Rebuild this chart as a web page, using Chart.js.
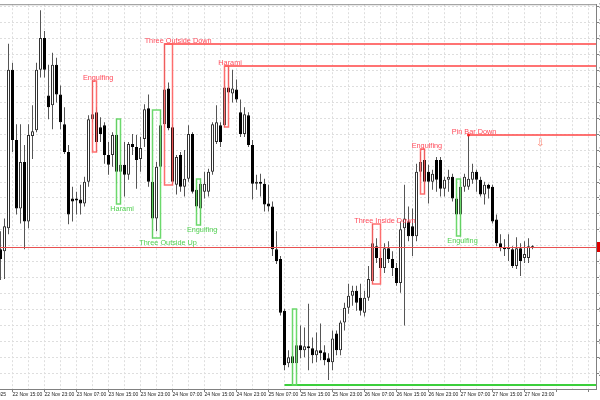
<!DOCTYPE html>
<html>
<head>
<meta charset="utf-8">
<script src="https://cdn.jsdelivr.net/npm/chart.js@4.4.1/dist/chart.umd.min.js"></script>
<style>
    html, body { margin: 0; padding: 0; background: #fff; overflow: hidden; }
    #wrap { width: 600px; height: 400px; overflow: hidden; }
</style>
</head>
<body>
<div id="wrap"><canvas id="candleChart" width="640" height="400"></canvas></div>
<script>
// time axis labels, one every 8 hourly bars starting at bar 3
const tickLabels = [
    "22 Nov 15:00", "22 Nov 23:00", "23 Nov 07:00", "23 Nov 15:00", "23 Nov 23:00",
    "24 Nov 07:00", "24 Nov 15:00", "24 Nov 23:00", "25 Nov 07:00", "25 Nov 15:00",
    "25 Nov 23:00", "26 Nov 07:00", "26 Nov 15:00", "26 Nov 23:00", "27 Nov 07:00",
    "27 Nov 15:00", "27 Nov 23:00"
];
const firstTick = 3;
const startDate = "22 Nov 2025";

// hourly candles (price in points)
const opens = [
    152, 150, 173, 333, 262, 193, 240, 180, 266, 272,
    333, 365, 307, 297, 338, 308, 278, 250, 203, 203,
    202, 198, 220, 283, 290, 275, 277, 247, 247, 267,
    230, 237, 227, 258, 255, 243, 263, 294, 220, 183,
    235, 278, 314, 275, 217, 247, 215, 223, 268, 212,
    193, 210, 210, 230, 260, 277, 277, 315, 309, 313,
    290, 268, 287, 257, 218, 220, 218, 198, 195, 152,
    142, 90, 37, 44, 37, 55, 50, 54, 52, 45,
    50, 48, 42, 38, 67, 50, 78, 93, 105, 110,
    103, 88, 103, 120, 155, 143, 133, 153, 142, 133,
    118, 173, 180, 175, 165, 230, 242, 230, 220, 242,
    242, 213, 222, 225, 203, 187, 215, 215, 222, 230,
    222, 207, 217, 215, 182, 158, 154, 152, 152, 135,
    153, 143, 143, 155
];
const highs = [
    170, 183, 359, 340, 278, 278, 257, 278, 297, 340,
    393, 372, 338, 350, 345, 317, 295, 257, 215, 210,
    217, 225, 287, 322, 295, 285, 280, 260, 270, 283,
    240, 260, 260, 268, 267, 265, 298, 308, 225, 240,
    292, 359, 320, 278, 247, 250, 252, 277, 270, 215,
    223, 230, 233, 280, 297, 280, 322, 337, 333, 323,
    303, 295, 290, 262, 227, 228, 223, 217, 200, 170,
    145, 92, 50, 48, 62, 75, 73, 97, 63, 68,
    77, 55, 47, 70, 70, 80, 98, 117, 115, 115,
    117, 110, 135, 177, 163, 150, 158, 160, 150, 138,
    180, 217, 195, 193, 238, 250, 253, 237, 232, 245,
    245, 225, 232, 228, 208, 223, 228, 267, 238, 232,
    225, 220, 218, 217, 187, 167, 162, 167, 155, 164,
    158, 160, 163, 156
];
const lows = [
    121, 122, 167, 250, 187, 178, 152, 173, 243, 270,
    325, 325, 283, 273, 300, 273, 248, 177, 180, 187,
    187, 195, 215, 280, 250, 260, 238, 227, 235, 218,
    198, 205, 222, 247, 213, 230, 255, 215, 163, 170,
    232, 275, 272, 217, 207, 210, 205, 220, 208, 190,
    176, 203, 205, 227, 258, 255, 275, 300, 300, 300,
    265, 265, 255, 202, 212, 205, 190, 190, 145, 137,
    85, 30, 33, 15, 28, 42, 43, 30, 37, 38,
    40, 35, 20, 30, 45, 45, 70, 87, 95, 90,
    85, 84, 100, 117, 138, 125, 128, 138, 125, 115,
    108, 75, 160, 145, 160, 225, 208, 198, 212, 210,
    205, 205, 210, 200, 182, 165, 210, 212, 218, 210,
    205, 197, 203, 178, 155, 150, 145, 140, 133, 132,
    125, 138, 138, 152
];
const closes = [
    142, 175, 333, 262, 193, 240, 180, 267, 271, 333,
    365, 333, 295, 338, 308, 280, 250, 187, 200, 201,
    198, 220, 283, 288, 260, 268, 247, 237, 267, 230,
    237, 227, 258, 255, 242, 254, 293, 220, 183, 235,
    277, 313, 274, 220, 245, 215, 223, 268, 210, 195,
    218, 218, 230, 278, 280, 260, 315, 310, 314, 303,
    268, 288, 257, 218, 220, 218, 197, 195, 152, 140,
    88, 35, 43, 37, 55, 50, 54, 52, 45, 50,
    47, 40, 38, 62, 50, 78, 93, 105, 110, 98,
    90, 103, 122, 158, 143, 133, 153, 142, 133, 118,
    172, 183, 165, 165, 230, 240, 220, 220, 228, 222,
    213, 222, 225, 203, 187, 215, 225, 223, 230, 222,
    207, 217, 213, 180, 158, 153, 152, 154, 135, 153,
    140, 147, 155, 153.5
];

// candle patterns found on the chart (bar index ranges)
const patterns = [
    { name: "Engulfing", bull: false, from: 23, to: 24, labelAt: 24.4 },
    { name: "Harami", bull: true, from: 29, to: 30, labelAt: 30.4 },
    { name: "Three Outside Up", bull: true, from: 38, to: 40, labelAt: 41.9 },
    { name: "Three Outside Down", bull: false, from: 41, to: 43, labelAt: 44.4, level: true },
    { name: "Engulfing", bull: true, from: 49, to: 50, labelAt: 50.4 },
    { name: "Harami", bull: false, from: 56, to: 57, labelAt: 57.4, level: true },
    { name: "", bull: true, from: 71, to: 74, labelAt: 74, level: true },
    { name: "Three Inside Down", bull: false, from: 93, to: 95, labelAt: 96.1 },
    { name: "Engulfing", bull: false, from: 105, to: 106, labelAt: 106.6 },
    { name: "Engulfing", bull: true, from: 114, to: 115, labelAt: 115.5 },
    { name: "Pin Bar Down", bull: false, from: 117, to: 117, labelAt: 118.4, level: true }
];

const axisFont = { family: "'Liberation Sans Narrow', 'Liberation Sans', Arial, sans-serif", size: 5 };

// boxes, labels, levels and the current price line
const overlayPlugin = {
    id: "overlay",
    afterDatasetsDraw(chart) {
        const ctx = chart.ctx;
        const area = chart.chartArea;
        const x = chart.scales.x;
        const y = chart.scales.y;
        ctx.save();

        // top frame
        ctx.strokeStyle = "#909090";
        ctx.lineWidth = 1;
        ctx.beginPath();
        ctx.moveTo(area.left, area.top + 0.5);
        ctx.lineTo(area.right, area.top + 0.5);
        ctx.stroke();

        ctx.font = "7.3px 'Liberation Sans', Arial, sans-serif";
        ctx.textAlign = "center";
        ctx.textBaseline = "middle";

        patterns.forEach(function (p) {
            const hs = highs.slice(p.from, p.to + 1);
            const ls = lows.slice(p.from, p.to + 1);
            const top = Math.round(y.getPixelForValue(Math.max.apply(null, hs)));
            const bot = Math.round(y.getPixelForValue(Math.min.apply(null, ls)));
            const x0 = x.getPixelForValue(p.from);
            const x1 = x.getPixelForValue(p.to);
            const boxColor = p.bull ? "rgba(100,215,100,0.95)" : "rgba(255,95,95,0.9)";
            const textColor = p.bull ? "#4fcf4f" : "#ff4a5a";

            if (p.level) {
                const ly = p.bull ? bot : top;
                ctx.strokeStyle = p.bull ? "#3ccf3c" : "rgba(255,90,90,0.85)";
                ctx.lineWidth = 2;
                ctx.beginPath();
                ctx.moveTo(x0, ly);
                ctx.lineTo(area.right, ly);
                ctx.stroke();
            }

            if (p.to > p.from) {
                ctx.strokeStyle = boxColor;
                ctx.lineWidth = 1.5;
                const bx = p.name ? x0 : x.getPixelForValue(p.to - 1);
                ctx.strokeRect(bx, top, x1 - bx, bot - top);
            } else {
                ctx.fillStyle = "#ff2020";
                ctx.beginPath();
                ctx.arc(x0, top, 1.5, 0, Math.PI * 2);
                ctx.fill();
            }

            if (p.name) {
                ctx.fillStyle = textColor;
                const lx = x.getPixelForValue(p.labelAt);
                const ty = p.bull ? bot + 4.5 : top - 3.5;
                ctx.fillText(p.name, lx, ty);
            }
        });

        // sell arrow next to the pin bar level
        const pin = patterns[patterns.length - 1];
        ctx.fillStyle = "rgba(255,120,100,0.9)";
        ctx.font = "10px 'DejaVu Sans', sans-serif";
        ctx.fillText("\u21E9", x.getPixelForValue(134.9), y.getPixelForValue(highs[pin.from]) + 8);

        // date at the left edge
        ctx.fillStyle = "#222";
        ctx.font = axisFont.size + "px " + axisFont.family;
        ctx.textAlign = "right";
        ctx.textBaseline = "top";
        ctx.fillText(startDate, area.left + 6, area.bottom + 3);

        ctx.restore();
    },
    afterDraw(chart) {
        // current price line, drawn last
        const ctx = chart.ctx;
        const area = chart.chartArea;
        const y = chart.scales.y;
        const last = closes[closes.length - 1];
        const py = Math.round(y.getPixelForValue(last));
        ctx.save();
        ctx.fillStyle = "rgb(232,80,80)";
        ctx.fillRect(area.left, py - 1, area.right - area.left, 1);
        ctx.fillStyle = "#e00000";
        ctx.fillRect(area.right + 1, py - 6, 8, 10);
        ctx.restore();
    }
};

const canvas = document.getElementById("candleChart").getContext("2d");

const candleChart = new Chart(canvas, {
    type: "bar",
    data: {
        datasets: [
            {
                label: "body",
                data: opens.map((o, i) => ({ x: i, y: [o, closes[i]] })),
                backgroundColor: opens.map((o, i) => (closes[i] >= o ? "#ffffff" : "#000000")),
                borderColor: opens.map((o, i) => (closes[i] >= o ? "#333333" : "#000000")),
                borderWidth: 1,
                borderSkipped: false,
                barThickness: 3,
                minBarLength: 1,
                inflateAmount: 0,
                grouped: false,
                order: 0,
            },
            {
                label: "wick",
                data: lows.map((l, i) => ({ x: i, y: [l, highs[i]] })),
                backgroundColor: "#555555",
                borderWidth: 0,
                barThickness: 1,
                inflateAmount: 0,
                grouped: false,
                order: 1,
            },
        ],
    },
    options: {
        responsive: false,
        animation: false,
        layout: { padding: { top: 1, left: 0, right: 0, bottom: 0 } },
        plugins: {
            legend: { display: false },
            tooltip: { enabled: false },
        },
        scales: {
            x: {
                type: "linear",
                min: -0.125,
                max: 148.875,
                offset: false,
                afterBuildTicks: function (scale) {
                    const t = [];
                    for (let k = firstTick; k <= 148; k += 4) t.push({ value: k });
                    scale.ticks = t;
                },
                afterFit: function (scale) {
                    scale.height = 11;
                },
                grid: {
                    offset: false,
                    color: "#dedede",
                    tickLength: 3,
                    tickColor: (c) => ((c.tick.value - firstTick) % 8 === 0 ? "#808080" : "rgba(0,0,0,0)"),
                },
                border: { color: "#808080", dash: [2, 2] },
                ticks: {
                    autoSkip: false,
                    maxRotation: 0,
                    minRotation: 0,
                    align: "start",
                    padding: 0,
                    color: "#222",
                    font: axisFont,
                    callback: (v) => ((v - firstTick) % 8 === 0 ? tickLabels[(v - firstTick) / 8] || "" : ""),
                },
            },
            y: {
                position: "right",
                min: 11,
                max: 399,
                afterBuildTicks: function (scale) {
                    const t = [];
                    for (let v = 396.8; v >= 11; v -= 16.1) t.push({ value: v });
                    scale.ticks = t;
                },
                afterFit: function (scale) {
                    scale.width = 44;
                },
                grid: { color: "#dedede", tickLength: 3, tickColor: "#808080" },
                border: { color: "#808080", dash: [2, 2] },
                ticks: {
                    autoSkip: false,
                    padding: 0,
                    color: "#333",
                    font: { family: "'Liberation Sans', Arial, sans-serif", size: 7 },
                    callback: (v) => v.toFixed(0),
                },
            },
        },
    },
    plugins: [overlayPlugin],
});
</script>
</body>
</html>
